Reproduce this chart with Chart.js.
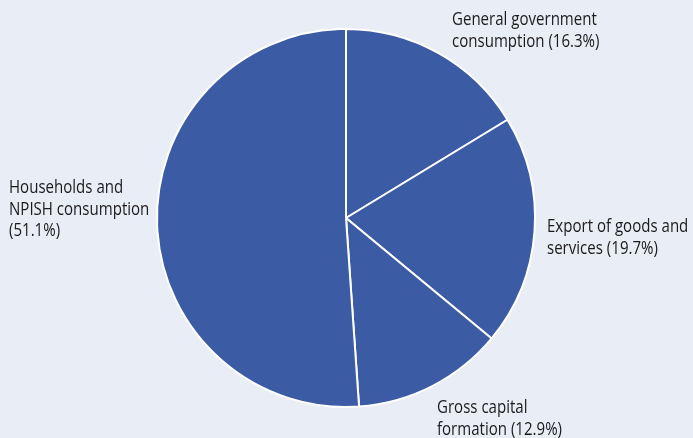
<!DOCTYPE html>
<html>
<head>
<meta charset="utf-8">
<script src="https://cdn.jsdelivr.net/npm/chart.js@4.4.1/dist/chart.umd.min.js"></script>
<style>
  html, body { margin: 0; padding: 0; background: #e9edf5; }
  #wrap { width: 693px; height: 438px; position: relative; }
</style>
</head>
<body>
<div id="wrap"><canvas id="c" width="693" height="438"></canvas></div>
<script>
// GDP expenditure components, share of total (%)
const categories = [
  'General government consumption',
  'Export of goods and services',
  'Gross capital formation',
  'Households and NPISH consumption'
];
const shares = [16.3, 19.7, 12.9, 51.1];

// Wrapped label lines for each slice
const labelLines = [
  ['General government', 'consumption (16.3%)'],
  ['Export of goods and', 'services (19.7%)'],
  ['Gross capital', 'formation (12.9%)'],
  ['Households and', 'NPISH consumption', '(51.1%)']
];
// Label anchors: left x, first baseline y
const labelAnchors = [[452, 25], [547, 232], [437, 413], [9, 193]];

// Slightly condensed text for the slice labels
const sliceLabels = {
  id: 'sliceLabels',
  afterDatasetsDraw(chart) {
    const ctx = chart.ctx;
    const sx = 0.86;
    ctx.save();
    ctx.fillStyle = '#1b1b1b';
    ctx.font = '17.5px "Open Sans", sans-serif';
    ctx.textAlign = 'left';
    ctx.textBaseline = 'alphabetic';
    labelLines.forEach((lines, i) => {
      const [x, y] = labelAnchors[i];
      lines.forEach((t, k) => {
        ctx.save();
        ctx.translate(x, y + k * 21.5);
        ctx.scale(sx, 1);
        ctx.fillText(t, 0, 0);
        ctx.restore();
      });
    });
    ctx.restore();
  }
};

new Chart(document.getElementById('c'), {
  type: 'pie',
  data: {
    labels: categories,
    datasets: [{
      data: shares,
      backgroundColor: '#3b5ba5',
      borderColor: '#ffffff',
      borderWidth: 2
    }]
  },
  options: {
    responsive: false,
    animation: false,
    layout: { padding: { top: 28, bottom: 30, left: 0, right: 1 } },
    plugins: {
      legend: { display: false },
      tooltip: { enabled: false }
    }
  },
  plugins: [sliceLabels]
});
</script>
</body>
</html>
